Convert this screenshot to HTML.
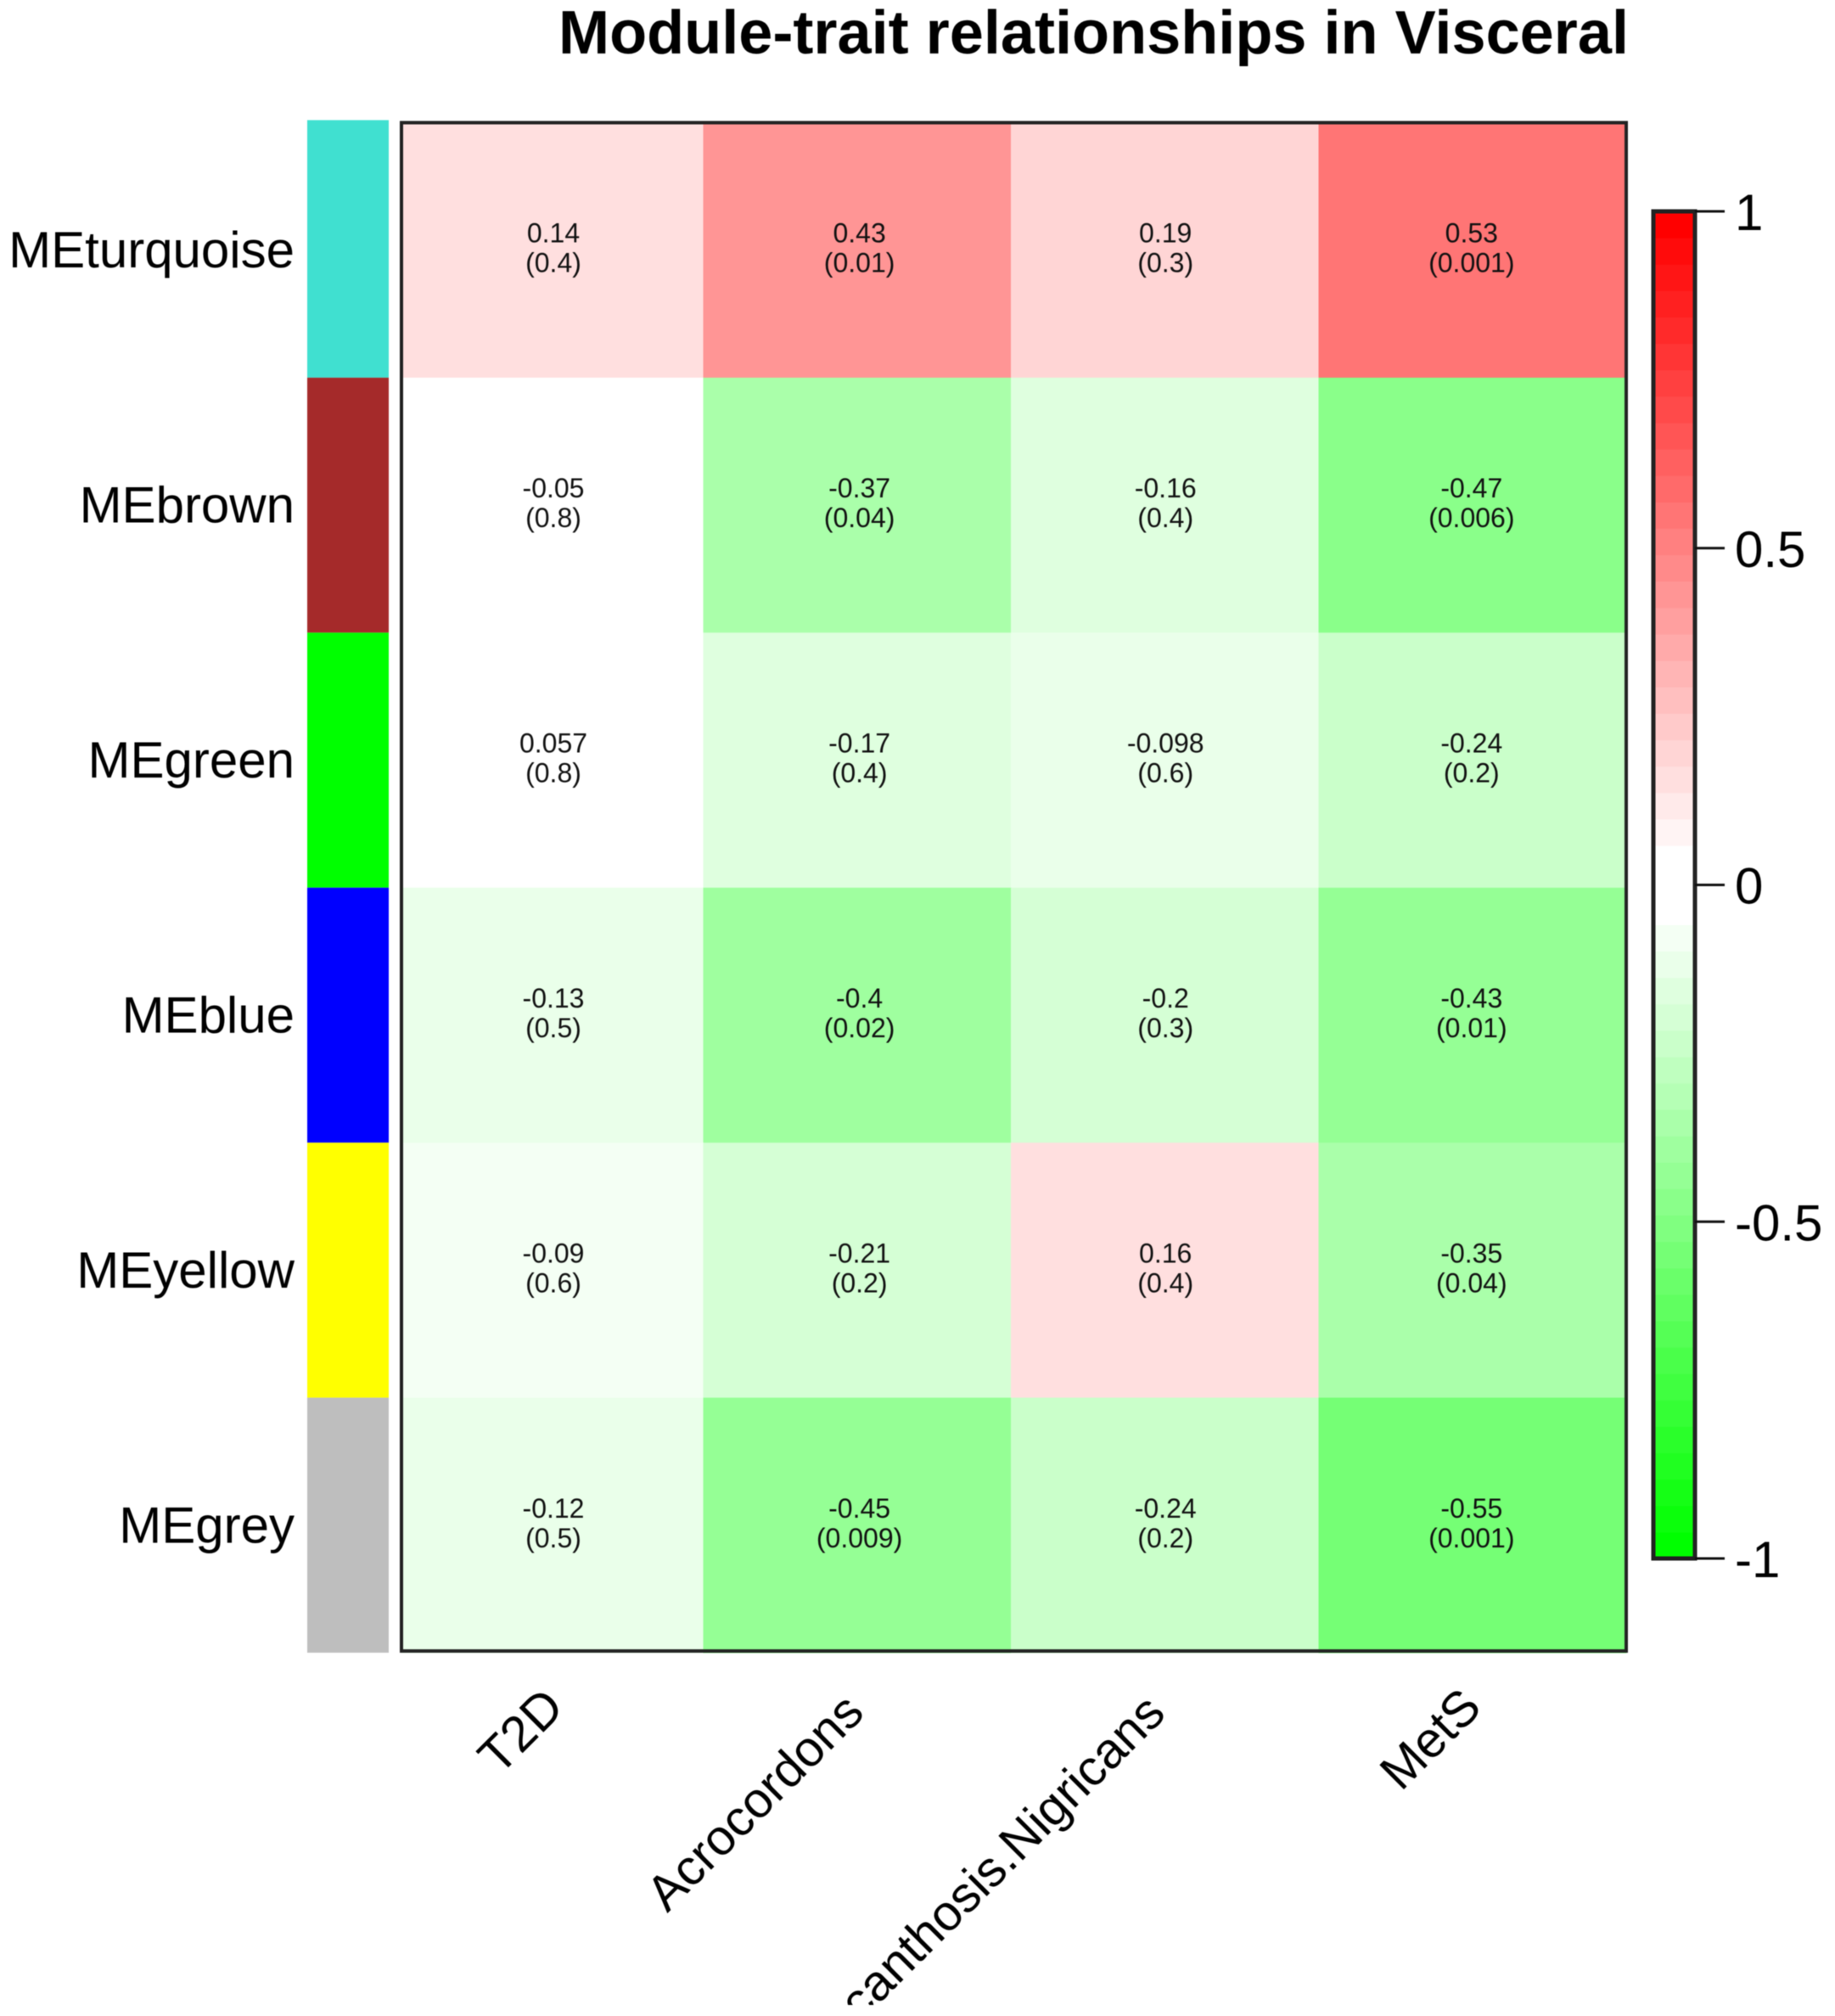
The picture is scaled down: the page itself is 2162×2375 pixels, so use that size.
<!DOCTYPE html>
<html lang="en">
<head>
<meta charset="utf-8">
<title>Module-trait relationships in Visceral</title>
<style>
html,body{margin:0;padding:0;background:#fff;width:2162px;height:2375px;overflow:hidden}
svg{display:block;font-family:"Liberation Sans",Arial,sans-serif;filter:blur(0.6px)}
</style>
</head>
<body>
<svg id="chart" xmlns="http://www.w3.org/2000/svg" width="2162" height="2375" viewBox="0 0 2162 2375">
<rect x="0" y="0" width="2162" height="2375" fill="#ffffff"/>
<text x="658" y="63" font-size="72" font-weight="bold" fill="#000" textLength="1261" lengthAdjust="spacingAndGlyphs">Module-trait relationships in Visceral</text>
</svg>
<script>
const modules = ["MEturquoise", "MEbrown", "MEgreen", "MEblue", "MEyellow", "MEgrey"];
const moduleSwatches = ["#40E0D0", "#A52A2A", "#00FF00", "#0000FF", "#FFFF00", "#BEBEBE"];
const traits = ["T2D", "Acrocordons", "Acanthosis.Nigricans", "MetS"];
const correlations = [
  [0.14, 0.43, 0.19, 0.53],
  [-0.05, -0.37, -0.16, -0.47],
  [0.057, -0.17, -0.098, -0.24],
  [-0.13, -0.4, -0.2, -0.43],
  [-0.09, -0.21, 0.16, -0.35],
  [-0.12, -0.45, -0.24, -0.55]
];
const pvalues = [
  ["0.4", "0.01", "0.3", "0.001"],
  ["0.8", "0.04", "0.4", "0.006"],
  ["0.8", "0.4", "0.6", "0.2"],
  ["0.5", "0.02", "0.3", "0.01"],
  ["0.6", "0.2", "0.4", "0.04"],
  ["0.5", "0.009", "0.2", "0.001"]
];
const colorbarTicks = [1, 0.5, 0, -0.5, -1];
const colorbarBandCount = 51;

const NS = "http://www.w3.org/2000/svg";
const svg = document.getElementById("chart");
const plot = { left: 473, right: 1916, top: 144.5, bottom: 1947, colStep: 362.5 };
const bar = { left: 362, right: 458, topExtra: 3 };
const cbar = { left: 1948, right: 1997, top: 249, bottom: 1836 };
const clipLine = 2362;

function make(tag, attrs, parent) {
  const el = document.createElementNS(NS, tag);
  for (const k in attrs) el.setAttribute(k, attrs[k]);
  (parent || svg).appendChild(el);
  return el;
}
function xBand(i) { return i === 0 ? plot.left : plot.right - (traits.length - i) * plot.colStep; }
function xCenter(i) { return 652 + 360.6 * i; }
function yBand(j) { return plot.top + (plot.bottom - plot.top) * j / modules.length; }
function cbY(v) { return cbar.bottom - (v + 1) / 2 * (cbar.bottom - cbar.top); }
function bandColor(b) {
  const k = Math.abs(b - Math.floor(colorbarBandCount / 2));
  const level = Math.max(0, k - 1) / (Math.floor(colorbarBandCount / 2) - 1);
  const c = Math.round(255 * (1 - level));
  return b > Math.floor(colorbarBandCount / 2) ? "rgb(255," + c + "," + c + ")" : "rgb(" + c + ",255," + c + ")";
}
function valueBand(v) { return Math.max(0, Math.min(colorbarBandCount - 1, Math.floor((v + 1) / 2 * colorbarBandCount - 0.01))); }

// module colour bar and row labels
modules.forEach(function (name, j) {
  const extra = j === 0 ? bar.topExtra : 0;
  const sw = make("rect", { x: bar.left, y: yBand(j) - extra, width: bar.right - bar.left, height: yBand(j + 1) - yBand(j) + extra, fill: moduleSwatches[j] });
  
  
  const lab = make("text", { x: 347, y: (yBand(j) + yBand(j + 1)) / 2 + 20.5, "font-size": 60, "text-anchor": "end", fill: "#000" });
  lab.textContent = name;
  
  
});

// heatmap cells
correlations.forEach(function (row, j) {
  row.forEach(function (v, i) {
    const cell = make("rect", { x: xBand(i), y: yBand(j), width: xBand(i + 1) - xBand(i) + 0.5, height: yBand(j + 1) - yBand(j) + 0.5, fill: bandColor(valueBand(v)) });
    
    
  });
});
correlations.forEach(function (row, j) {
  row.forEach(function (v, i) {
    const cx = xCenter(i);
    const cy = (yBand(j) + yBand(j + 1)) / 2;
    const t1 = make("text", { x: cx, y: cy - 9, "font-size": 32, "text-anchor": "middle", fill: "#111" });
    t1.textContent = String(v);
    
    
    const t2 = make("text", { x: cx, y: cy + 26, "font-size": 32, "text-anchor": "middle", fill: "#111" });
    t2.textContent = "(" + pvalues[j][i] + ")";
    
    
  });
});

// plot frame
const frame = make("path", { d: "M" + plot.left + " " + plot.top + "H" + plot.right + "V" + (plot.bottom - 2) + "H" + plot.left + "Z", fill: "none", stroke: "#222", "stroke-width": 4 });



// trait labels (R places rotated labels with per-label glyph offsets)
function labelAnchorX(i) { return [667, 1020.5, 1375.5, 1748][i]; }
function labelAnchorY(i) { return [2014, 2020, 2021, 2014][i]; }
traits.forEach(function (name, i) {
  const ax = labelAnchorX(i);
  const ay = labelAnchorY(i);
  const lab = make("text", { x: ax, y: ay, "font-size": 59, "text-anchor": "end", fill: "#000", transform: "rotate(-45 " + ax + " " + ay + ")" });
  lab.textContent = name;
  
  
});

// the device clips the long trait label at the bottom edge
const clipMask = make("rect", { x: 0, y: clipLine, width: 2162, height: 2375 - clipLine, fill: "#ffffff" });



// colour bar
for (let b = 0; b < colorbarBandCount; b++) {
  const h = (cbar.bottom - cbar.top) / colorbarBandCount;
  const band = make("rect", { x: cbar.left, y: cbar.bottom - (b + 1) * h, width: cbar.right - cbar.left, height: h + 0.6, fill: bandColor(b) });
  
  
}
const cframe = make("rect", { x: cbar.left, y: cbar.top, width: cbar.right - cbar.left, height: cbar.bottom - cbar.top, fill: "none", stroke: "#222", "stroke-width": 5 });


colorbarTicks.forEach(function (v) {
  const y = cbY(v);
  const tick = make("line", { x1: cbar.right, x2: 2032, y1: y, y2: y, stroke: "#111", "stroke-width": 3 });
  
  
  const lab = make("text", { x: 2044, y: y + 22, "font-size": 60, fill: "#000" });
  lab.textContent = String(v);
  
  
});
</script>
</body>
</html>
